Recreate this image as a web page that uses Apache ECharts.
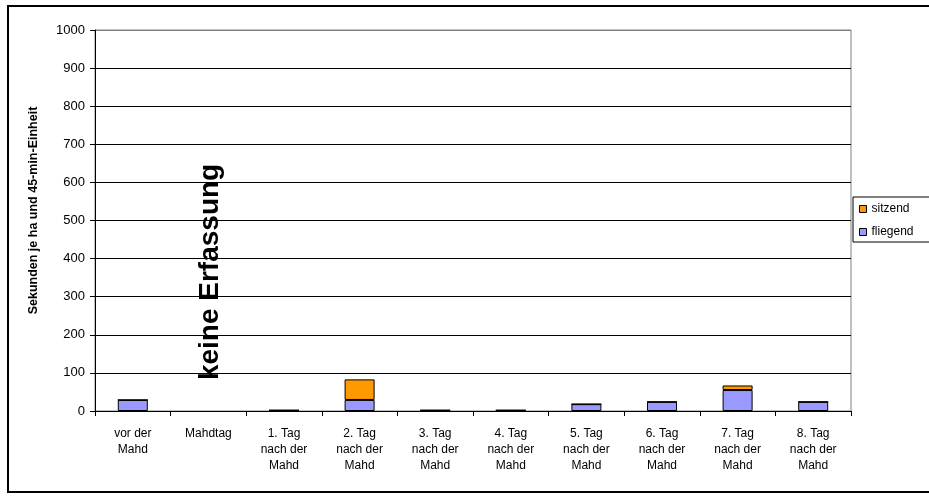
<!DOCTYPE html>
<html>
<head>
<meta charset="utf-8">
<script src="https://cdn.jsdelivr.net/npm/echarts@6/dist/echarts.min.js"></script>
<style>
  html, body { margin: 0; padding: 0; background: #fff; }
  #chart { width: 929px; height: 496px; }
</style>
</head>
<body>
<div id="chart"></div>
<script>
// Werte
const categories = [
    'vor der\nMahd', 'Mahdtag', '1. Tag\nnach der\nMahd', '2. Tag\nnach der\nMahd',
    '3. Tag\nnach der\nMahd', '4. Tag\nnach der\nMahd', '5. Tag\nnach der\nMahd',
    '6. Tag\nnach der\nMahd', '7. Tag\nnach der\nMahd', '8. Tag\nnach der\nMahd'
];
const fliegend = [29, null, 2, 29, 2, 2, 18, 24, 55, 24];
const sitzend  = [0, null, 0, 54, 0, 0, 0, 0, 12, 0];
const yTicks = [0, 100, 200, 300, 400, 500, 600, 700, 800, 900, 1000];

const font = 'Liberation Sans, Arial, sans-serif';

const chart = echarts.init(document.getElementById('chart'));

// Gitterlinien schwarz, oberste Linie (1000) grau wie der Rahmen
const splitColors = yTicks.map((t, i) => i === yTicks.length - 1 ? '#808080' : '#000');

chart.setOption({
    animation: false,
    backgroundColor: '#fff',
    textStyle: { fontFamily: font },
    grid: {
        left: 95, right: 78, top: 30, bottom: 85,
        show: true, borderColor: '#808080', borderWidth: 1, backgroundColor: 'transparent'
    },
    legend: {
        left: 853, top: 197,
        orient: 'vertical',
        data: ['sitzend', 'fliegend'],
        icon: 'rect',
        itemWidth: 7, itemHeight: 7, itemGap: 11,
        padding: [6, 40, 4, 6],
        borderColor: '#000', borderWidth: 1,
        textStyle: { fontSize: 12, color: '#000', fontFamily: font },
        itemStyle: { borderColor: '#000', borderWidth: 1 }
    },
    xAxis: {
        type: 'category',
        data: categories,
        axisLine: { lineStyle: { color: '#000', width: 1 } },
        axisTick: { show: true, length: 5, lineStyle: { color: '#000' } },
        axisLabel: {
            interval: 0, margin: 15, color: '#000',
            fontSize: 12, lineHeight: 16, fontFamily: font
        }
    },
    yAxis: {
        type: 'value',
        min: 0, max: 1000, interval: 100,
        name: 'Sekunden je ha und 45-min-Einheit',
        nameLocation: 'middle',
        nameGap: 55,
        nameTextStyle: { fontSize: 12.5, fontWeight: 'bold', color: '#000', fontFamily: font, padding: [0, 0, 0, 20] },
        axisLine: { show: true, lineStyle: { color: '#000', width: 1 } },
        axisTick: { show: true, length: 5, lineStyle: { color: '#000' } },
        axisLabel: { color: '#000', fontSize: 13, margin: 10, fontFamily: font, formatter: v => String(v) },
        splitLine: { show: true, lineStyle: { color: splitColors, width: 1 } }
    },
    series: [
        {
            name: 'fliegend',
            type: 'bar',
            stack: 'gesamt',
            barWidth: 30,
            data: fliegend,
            itemStyle: { color: '#9999FF', borderColor: '#000', borderWidth: 1 }
        },
        {
            name: 'sitzend',
            type: 'bar',
            stack: 'gesamt',
            barWidth: 30,
            data: sitzend,
            itemStyle: { color: '#FF9900', borderColor: '#000', borderWidth: 1 }
        }
    ]
});

// Hinweis "keine Erfassung" über dem Mahdtag, Rahmen um das Diagramm
const notePos = chart.convertToPixel({ gridIndex: 0 }, ['Mahdtag', 365]);
chart.setOption({
    graphic: [
        {
            type: 'rect',
            shape: { x: 8, y: 6, width: 960, height: 486 },
            style: { fill: 'none', stroke: '#000', lineWidth: 2 },
            silent: true, z: 100
        },
        {
            type: 'text',
            x: notePos[0] + 2, y: notePos[1],
            rotation: Math.PI / 2,
            style: {
                text: 'keine Erfassung',
                font: 'bold 28px ' + font,
                fill: '#000',
                align: 'center',
                verticalAlign: 'middle'
            },
            z: 50
        }
    ]
});
</script>
</body>
</html>
